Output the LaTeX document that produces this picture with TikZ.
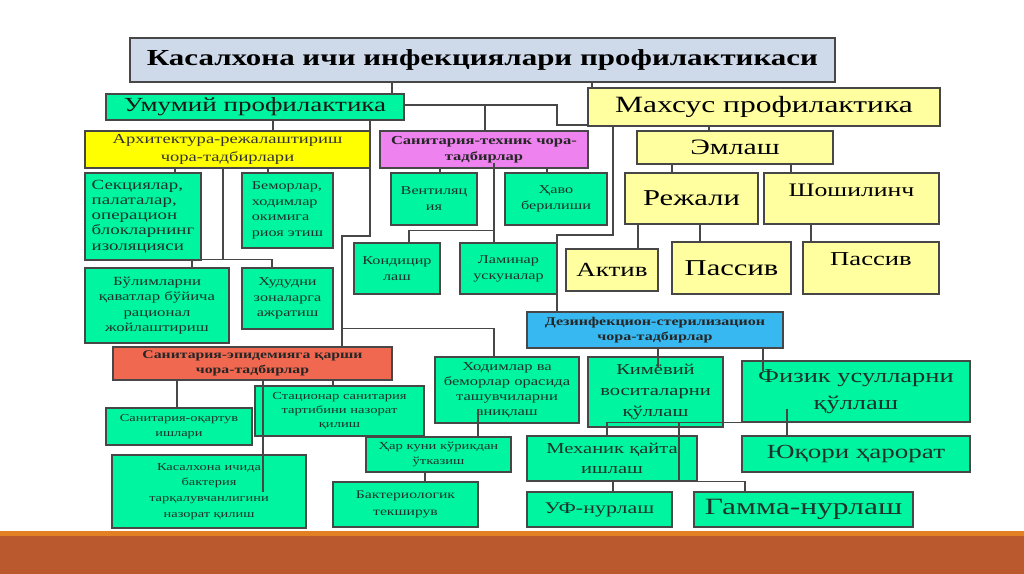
\documentclass[tikz,border=0pt]{standalone}
\usepackage{fontspec}
\setmainfont{Liberation Serif}[FakeStretch=1.35]
\usepackage{xcolor}

\definecolor{boxgreen}{RGB}{0,245,160}
\definecolor{titleblue}{RGB}{206,218,234}
\definecolor{archyellow}{RGB}{255,255,0}
\definecolor{paleyellow}{RGB}{255,255,160}
\definecolor{pinkbox}{RGB}{238,130,238}
\definecolor{bluebox}{RGB}{56,184,240}
\definecolor{redbox}{RGB}{240,104,80}
\definecolor{txtdark}{RGB}{30,50,45}
\definecolor{barorange}{RGB}{228,128,36}
\definecolor{barbrown}{RGB}{186,88,46}

\begin{document}
\begin{tikzpicture}[
    x=0.75pt, y=-0.75pt,
    box/.style={draw=black!72, line width=0.85pt, align=center, inner sep=0pt,
      text=txtdark},
    cell/.style args={#1/#2/#3/#4}{at={({(#1+#3)/2},{(#2+#4)/2})},
      minimum width={(#3-#1)*0.75pt}, minimum height={(#4-#2)*0.75pt}},
    grn/.style={box, fill=boxgreen},
    ylw/.style={box, fill=paleyellow, text=black},
    ln/.style={draw=black!72, line width=0.95pt},
    fs/.style 2 args={font=\fontsize{#1}{#2}\selectfont},
    fsb/.style 2 args={font=\fontsize{#1}{#2}\selectfont\bfseries},
  ]
    % slide background and bottom bar
    \fill[white] (0,0) rectangle (1024,574);
    \fill[barorange] (0,531) rectangle (1024,536);
    \fill[barbrown] (0,536) rectangle (1024,574);

    % top levels
    \node[box, fill=titleblue, text=black, fsb={17.2}{19},
      cell=130/38/835/82] (title)
      {Касалхона ичи инфекциялари профилактикаси};
    \node[grn, text=black!90, fs={15}{17}, cell=106/94/404/120] (umum)
      {Умумий профилактика};
    \node[ylw, fs={17.5}{19}, cell=588/88/940/126] (maxs)
      {Махсус профилактика};

    % general prophylaxis
    \node[box, fill=archyellow, text=black!80, fs={10.3}{13.75},
      cell=85/131/370/168] (arch)
      {Архитектура-режалаштириш\\чора-тадбирлари};
    \node[box, fill=pinkbox, text=black!85, fsb={9.2}{12.25},
      cell=380/131/588/168] (santex)
      {Санитария-техник чора-\\тадбирлар};
    \node[grn, align=left, fs={10.5}{11.4}, cell=85/173/201/260] (sect)
      {Секциялар,\\палаталар,\\операцион\\блокларнинг\\изоляцияси};
    \node[grn, align=left, fs={9}{11.6}, cell=242/173/333/248] (bemor)
      {Беморлар,\\ходимлар\\окимига\\риоя этиш};
    \node[grn, fs={9.3}{11.6}, cell=85/268/229/343] (bulim)
      {Бўлимларни\\қаватлар бўйича\\рационал\\жойлаштириш};
    \node[grn, fs={9}{11.6}, cell=242/268/333/329] (hudud)
      {Худудни\\зоналарга\\ажратиш};
    \node[grn, fs={9}{12}, cell=391/173/477/225] (vent)
      {Вентиляц\\ия};
    \node[grn, fs={9}{12}, cell=505/173/607/225] (havo)
      {Ҳаво\\берилиши};
    \node[grn, fs={9}{12}, cell=354/243/440/294] (kond)
      {Кондицир\\лаш};
    \node[grn, fs={9}{12}, cell=460/243/557/294] (lamin)
      {Ламинар\\ускуналар};

    % special prophylaxis
    \node[ylw, fs={16.5}{19}, cell=637/131/833/164] (emlash) {Эмлаш};
    \node[ylw, fs={17}{19}, cell=625/173/758/224] (rejali) {Режали};
    \node[ylw, fs={14.3}{16}, text depth=12pt, cell=764/173/939/224] (shosh)
      {Шошилинч};
    \node[ylw, fs={15}{17}, cell=566/249/658/291] (aktiv) {Актив};
    \node[ylw, fs={17}{19}, cell=672/242/791/294] (pass1) {Пассив};
    \node[ylw, fs={14.8}{16}, text depth=13pt, cell=803/242/939/294] (pass2)
      {Пассив};

    % disinfection
    \node[box, fill=bluebox, text=black!85, fsb={8.9}{11.75},
      cell=527/312/783/348] (dezinf)
      {Дезинфекцион-стерилизацион\\чора-тадбирлар};
    \node[grn, fs={9.2}{11.25}, cell=435/357/579/423] (hodim)
      {Ходимлар ва\\беморлар орасида\\ташувчиларни\\аниқлаш};
    \node[grn, fs={11.4}{15.5}, cell=588/357/723/427] (kimyo)
      {Кимёвий\\воситаларни\\қўллаш};
    \node[grn, fs={14.7}{20}, cell=742/361/970/422] (fizik)
      {Физик усулларни\\қўллаш};
    \node[grn, fs={11.4}{15}, cell=527/436/697/481] (mexan)
      {Механик қайта\\ишлаш};
    \node[grn, fs={15}{17}, cell=742/436/970/472] (yuqori)
      {Юқори ҳарорат};
    \node[grn, fs={12.2}{14}, cell=527/492/672/527] (uf) {УФ-нурлаш};
    \node[grn, fs={17.5}{19}, cell=694/492/913/527] (gamma) {Гамма-нурлаш};

    % sanitary-epidemic
    \node[box, fill=redbox, text=black!85, fsb={8.75}{11.75},
      cell=113/347/392/380] (sanep)
      {Санитария-эпидемияга қарши\\чора-тадбирлар};
    \node[grn, fs={8}{11.25}, cell=106/408/252/445] (oqartuv)
      {Санитария-оқартув\\ишлари};
    \node[grn, fs={8.1}{10.75}, cell=255/386/424/436] (stats)
      {Стационар санитария\\тартибини назорат\\қилиш};
    \node[grn, fs={8.1}{10.75}, cell=366/437/511/472] (harkun)
      {Ҳар куни кўрикдан\\ўтказиш};
    \node[grn, fs={8.7}{12.5}, cell=333/482/478/527] (bakter)
      {Бактериологик\\текширув};
    \node[grn, fs={8}{11.9}, cell=112/455/306/528] (kasal)
      {Касалхона ичида\\бактерия\\тарқалувчанлигини\\назорат қилиш};

    % connectors
    \draw[ln] (title.south -| 392,0) -- (umum.north -| 392,0);
    \draw[ln] (title.south -| 592,0) -- (maxs.north -| 592,0);
    \draw[ln] (umum.east |- 0,105) -| (557,125) -- (maxs.west |- 0,125);
    \draw[ln] (santex.north -| 485,0) -- ++(0,-26);
    \draw[ln] (umum.south -| 273,0) -- (arch.north -| 273,0);
    \draw[ln] (umum.south -| 370,0) |- (342,236) -- (sanep.north -| 342,0);
    \draw[ln] (sanep.north -| 342,0) ++(0,-18) -| (hodim.north -| 494,0);

    \draw[ln] (arch.south -| 175,0) -- (sect.north -| 175,0);
    \draw[ln] (arch.south -| 268,0) -- (bemor.north -| 268,0);
    \draw[ln] (arch.south -| 223,0) -- ++(0,91) coordinate (split1);
    \draw[ln] (bulim.north -| 192,0) |- (split1) -| (hudud.north -| 272,0);

    \draw[ln] (santex.south -| 440,0) -- (vent.north -| 440,0);
    \draw[ln] (santex.south -| 547,0) -- (havo.north -| 547,0);
    \draw[ln] (santex.south -| 494,0) ++(0,-6) -- (lamin.north -| 494,0);
    \draw[ln] (lamin.north -| 494,0) ++(0,-12) -| (kond.north -| 409,0);

    \draw[ln] (maxs.south -| 613,0) |- (557,235) -- (dezinf.north -| 557,0);
    \draw[ln] (maxs.south -| 709,0) -- (emlash.north -| 709,0);
    \draw[ln] (emlash.south -| 672,0) -- (rejali.north -| 672,0);
    \draw[ln] (emlash.south -| 791,0) -- (shosh.north -| 791,0);
    \draw[ln] (rejali.south -| 638,0) -- (aktiv.north -| 638,0);
    \draw[ln] (rejali.south -| 700,0) -- (pass1.north -| 700,0);
    \draw[ln] (shosh.south -| 811,0) -- (pass2.north -| 811,0);

    \draw[ln] (dezinf.south -| 658,0) -- ++(0,19);
    \draw[ln] (dezinf.south -| 763,0) -- ++(0,22);
    \draw[ln] (fizik.south -| 787,0) ++(0,-14) -- (yuqori.north -| 787,0);
    \draw[ln] (mexan.north -| 607,0) |- (fizik.south -| 787,0);
    \draw[ln] (fizik.south -| 679,0) -- (mexan.south -| 679,0)
      -| (gamma.north -| 745,0);
    \draw[ln] (mexan.south -| 613,0) -- (uf.north -| 613,0);

    \draw[ln] (sanep.south -| 177,0) -- (oqartuv.north -| 177,0);
    \draw[ln] (sanep.south -| 333,0) -- (stats.north -| 333,0);
    \draw[ln] (sanep.south -| 263,0) -- (kasal.center -| 263,0);
    \draw[ln] (hodim.south -| 478,0) ++(0,-15) -- (harkun.north -| 478,0);
    \draw[ln] (harkun.south -| 425,0) -- (bakter.north -| 425,0);
  \end{tikzpicture}
\end{document}
